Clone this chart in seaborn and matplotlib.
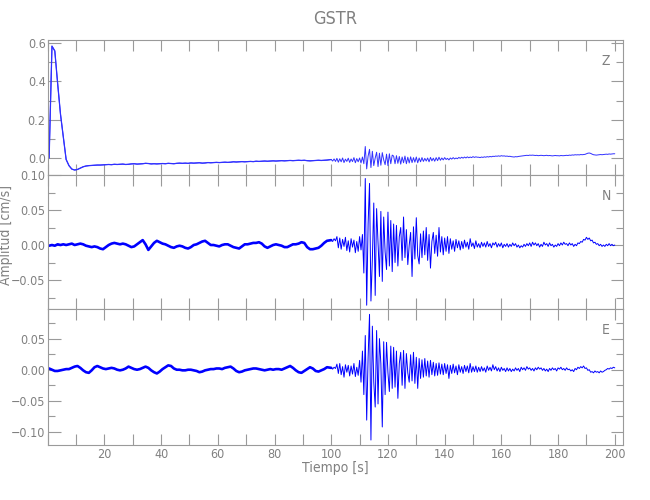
import numpy as np
import pandas as pd
import matplotlib
matplotlib.use("Agg")
import matplotlib.pyplot as plt
import seaborn as sns
from matplotlib.ticker import MultipleLocator, FixedLocator
from matplotlib import font_manager

# ---------------- text ----------------
title = "GSTR"
components = ["Z", "N", "E"]
xlabel = "Tiempo [s]"
ylabel = "Amplitud [cm/s]"
x_ticks = [20, 40, 60, 80, 100, 120, 140, 160, 180, 200]
z_yticks = [0.0, 0.2, 0.4, 0.6]
n_yticks = [-0.05, 0.00, 0.05, 0.10]
e_yticks = [-0.10, -0.05, 0.00, 0.05]

# ---------------- sampling ----------------
pre_t0, pre_dt = 0.5, 1.0      # quiet part, 1 s spacing
coda_t0, coda_dt = 100.0, 0.5  # arrival + coda, 0.5 s spacing
unit = 0.001                   # values below are in 0.001 cm/s

# ---------------- Z component ----------------
z_pre = [
    0, 585, 560, 390, 230, 110, -8, -40, -58, -63, -60, -53, -46, -42, -40, -39, -38, -37, -37, -36,
    -35, -34, -35, -33, -34, -33, -32, -34, -33, -31, -30, -32, -31, -30, -28, -29, -31, -30, -31, -30,
    -29, -30, -28, -29, -30, -28, -27, -28, -27, -28, -26, -27, -26, -25, -27, -26, -24, -25, -24, -23,
    -24, -23, -22, -23, -22, -20, -21, -20, -19, -20, -19, -18, -19, -17, -18, -17, -16, -17, -16, -15,
    -16, -15, -14, -15, -14, -13, -14, -13, -12, -13, -12, -14, -15, -14, -13, -12, -13, -12, -11,
]
z_coda = [
    -8, -16, -5, -18,
    -2, -22, -4, -20, 0, -24, -6, -18, -1, -23, -5, -19, 2, -25, -3, -20, 0, -26, 5, -30,
    60, -57, 10, 45, -50, 35, -40, 0, 30, -45, 25, -38, 28, -10, -35, 20, -40, 22, -30, 15,
    10, -30, 12, -28, 8, -32, 5, -25, 10, -30, 4, -26, 6, -24, 2, -22, 5, -25, 0, -20,
    2, -18, -2, -16, 0, -20, 3, -15, -1, -17, 2, -14, 4, -12, 0, -10, 2, -8, -2, -10,
    0, -6, 2, -5, 0, -4, 3, -2, 4, -1, 5, 0, 6, 1, 5, 2, 7, 3, 6, 4,
    4, 2, 5, 3, 6, 4, 7, 5, 8, 6, 9, 8, 10, 9, 11, 9, 12, 10, 11, 9,
    10, 8, 9, 7, 6, 5, 7, 6, 8, 9, 10, 11, 12, 13, 14, 13, 15, 14, 15, 14,
    13, 14, 12, 13, 14, 13, 12, 13, 14, 12, 13, 12, 11, 12, 13, 12, 12, 11, 13, 12,
    12, 13, 14, 13, 15, 14, 16, 15, 17, 16, 17, 16, 18, 17, 18, 19, 22, 25, 26, 24,
    20, 17, 16, 15, 16, 17, 18, 17, 18, 19, 20, 19, 21, 20, 21, 22, 22,
]

# ---------------- N component ----------------
n_pre = [
    -1, 0, -1, 1, 0, 1, 0, 1, 2, 0, 1, 2, 1, -1, -2, -3, -2, -3, -5, -6,
    -3, 0, 2, 3, 2, 1, 2, 1, -1, -3, -2, 1, 4, 7, 1, -7, -2, 3, 6, 4,
    2, 1, -1, -3, -4, -2, -1, -2, -4, -5, -3, 0, 1, 3, 5, 6, 3, 0, 0, -1,
    -2, 0, 1, 1, -1, -3, -4, -5, -2, 1, 1, 2, 3, 3, 4, 2, -2, -4, -2, 0,
    1, 0, -1, -3, -3, -1, 1, 1, 2, 4, 3, -3, -6, -6, -5, -4, -1, 3, 6,
]
n_coda = [
    7, 5, 9, 6,
    12, -4, 10, -6, 8, -2, 11, -8, 6, -10, 9, -3, 7, -11, 5, -9, 12, -7, 15, -40,
    95, -86, 30, 88, -80, -20, 60, -72, 52, 5, -45, 48, -52, 40, -10, -35, 47, -30, 35, -38,
    30, -25, 28, -30, 12, 25, -22, 40, -18, 22, -28, 0, 18, -45, 26, -20, 39, -15, -27, 16,
    -18, 20, -14, 25, -22, 15, -33, 5, 18, -12, 14, -16, 25, -10, 12, -14, 10, -9, 12, -12,
    9, -6, 6, -9, 8, -4, 6, -7, 5, -5, 7, -3, 4, -6, 9, -2, 3, -5, 6, -3,
    2, -4, 4, -2, 3, -3, 5, -2, 2, -4, 3, 0, 4, -3, 2, -2, 3, -4, 1, -2,
    2, -3, 1, -2, 3, -1, 2, -3, 0, -4, -1, -3, 1, -2, 2, -1, 3, -2, 4, 0,
    3, -1, 2, -3, 1, -2, 4, 0, 2, -2, 3, -1, 1, -3, 0, -2, 2, -1, 3, 0,
    4, 1, 2, -1, 3, 0, 2, -2, 1, -1, 3, 2, 5, 4, 8, 7, 11, 8, 10, 6,
    7, 3, 4, 1, 2, -1, 1, -2, 0, -2, 1, -1, 2, -1, 1, -1, 0,
]

# ---------------- E component ----------------
e_pre = [
    2, 0, -2, -2, -1, 0, 1, 1, 3, 5, 6, 3, -1, -4, -5, -1, 4, 6, 4, 2,
    1, 2, 3, 2, 0, -1, 0, 2, 5, 3, 1, 0, 1, 3, 5, 3, -1, -4, -6, -3,
    1, 4, 7, 6, 2, 0, 0, -1, -1, 0, 0, -1, -2, -4, -3, -1, 0, 1, 1, 2,
    2, 1, 3, 4, 5, 2, -2, -4, -3, -1, 0, 1, 2, 2, 1, 0, -1, 0, 1, 0,
    1, 1, 0, 2, 4, 6, 3, -1, -4, -5, -2, 1, 4, 2, -2, -3, -1, 1, 4,
]
e_coda = [
    3, 1, 4, 2,
    9, -6, 10, -8, 5, -12, 8, -4, 7, -10, 6, -7, 10, -11, 4, -9, 15, -20, 30, -40,
    55, -81, 20, 89, -113, 70, -20, -60, 63, -55, 50, 10, -92, 45, -40, 44, -5, -35, 38, -30,
    36, -28, 30, -46, 10, 28, -25, 31, -30, 26, -5, -20, 24, -18, 28, -22, 20, -30, 18, -14,
    16, -12, 18, -10, 14, -12, 15, -8, 12, -10, 10, -9, 11, -7, 9, -8, 10, -6, 8, -14,
    7, -6, 9, -5, 6, -8, 8, -4, 5, -6, 7, -3, 6, -5, 10, -4, 5, -3, 6, -4,
    4, -3, 5, -2, 3, -4, 6, -1, 4, -2, 8, 0, 5, -2, 3, -3, 4, -1, 2, -3,
    3, -2, 2, -3, 1, -2, 3, -1, 2, -3, 4, 0, 3, -1, 5, 1, 3, -1, 2, -2,
    3, 0, 4, 1, 3, -1, 2, -2, 1, -3, 2, -1, 3, 0, 2, -2, 3, 1, 4, 0,
    2, -1, 3, 0, 1, -2, 0, -3, 2, 0, 4, 2, 5, 3, 6, 2, 3, -1, 0, -4,
    -3, -5, -2, -4, -3, -5, -2, -4, -3, -1, 0, 2, 1, 3, 2, 4, 3,
]

# ---------------- style ----------------
sns.set_theme(style="white")
# pick a narrow face if one is installed
narrow = None
for f in font_manager.fontManager.ttflist:
    if f.name == "Liberation Sans Narrow":
        narrow = "Liberation Sans Narrow"
        break
if narrow is None:
    for f in font_manager.fontManager.ttflist:
        if f.name == "DejaVu Sans" and "ondensed" in f.fname:
            narrow = "DejaVu Sans"
            plt.rcParams["font.stretch"] = "condensed"
            break
plt.rcParams["font.family"] = ([narrow] if narrow else []) + ["DejaVu Sans"]

text_col = "#808080"
axis_col = "#9a9a9a"
plt.rcParams.update({
    "text.color": text_col, "axes.labelcolor": text_col,
    "xtick.color": axis_col, "ytick.color": axis_col,
    "xtick.labelcolor": text_col, "ytick.labelcolor": text_col,
    "axes.edgecolor": axis_col, "axes.linewidth": 0.8,
})
tick_fs = 9 if narrow else 8

fig = plt.figure(figsize=(6.5, 5), dpi=100)
left, width = 0.0734, 0.8855
ax_z = fig.add_axes([left, 0.650, width, 0.270])
ax_n = fig.add_axes([left, 0.382, width, 0.268])
ax_e = fig.add_axes([left, 0.110, width, 0.272])

panels = [
    (ax_z, "Z", z_pre, z_coda, (-0.089, 0.617), z_yticks, 0.1, "{:.1f}", 0.9, "#3030ff"),
    (ax_n, "N", n_pre, n_coda, (-0.0914, 0.100), n_yticks, 0.025, "{:.2f}", 1.9, "#0000ff"),
    (ax_e, "E", e_pre, e_coda, (-0.121, 0.0976), e_yticks, 0.025, "{:.2f}", 1.9, "#0000ff"),
]

for ax, comp, pre, coda, ylim, yt, yminor, fmt, lw_pre, col in panels:
    t_pre = pre_t0 + pre_dt * np.arange(len(pre))
    t_coda = coda_t0 + coda_dt * np.arange(len(coda))
    df = pd.DataFrame({
        "t": np.concatenate([t_pre, t_coda]),
        "amp": np.concatenate([np.asarray(pre, float), np.asarray(coda, float)]) * unit,
    })
    sns.lineplot(data=df, x="t", y="amp", ax=ax, color=col, linewidth=0.7,
                 estimator=None, sort=False)
    sns.lineplot(data=df.iloc[:len(pre) + 1], x="t", y="amp", ax=ax, color=col,
                 linewidth=lw_pre, estimator=None, sort=False)

    ax.set_xlim(0, 203)
    ax.set_ylim(*ylim)
    ax.xaxis.set_major_locator(FixedLocator(x_ticks))
    ax.xaxis.set_minor_locator(MultipleLocator(10))
    ax.yaxis.set_major_locator(FixedLocator(yt))
    ax.yaxis.set_minor_locator(MultipleLocator(yminor))
    ax.set_yticklabels([fmt.format(v).replace("-", "\u2212") for v in yt])
    ax.tick_params(axis="x", which="both", direction="in", length=8, width=0.8,
                   top=True, bottom=True, labelsize=tick_fs, pad=2.5)
    ax.tick_params(axis="y", which="major", direction="in", length=9, width=0.8,
                   left=True, right=True, labelsize=tick_fs, pad=1.5)
    ax.tick_params(axis="y", which="minor", direction="in", length=5, width=0.8,
                   left=True, right=True)
    ax.set_xlabel("")
    ax.set_ylabel("")
    ax.text(0.970, 0.842, comp, transform=ax.transAxes, ha="center", va="center",
            fontsize=10, color=text_col)
    for s in ax.spines.values():
        s.set_color(axis_col)
        s.set_linewidth(0.8)
    if ax is not ax_e:
        ax.tick_params(axis="x", labelbottom=False)

ax_e.set_xticklabels([str(v) for v in x_ticks])
ax_e.set_xlabel(xlabel, fontsize=10)
ax_e.xaxis.set_label_coords(0.5, -0.115)
ax_n.set_ylabel(ylabel, fontsize=10)
ax_n.yaxis.set_label_coords(-0.0605 if narrow else -0.064, 0.555)
fig.text(0.515, 0.963, title, ha="center", va="center", fontsize=13, color=text_col)

fig.savefig("out.png", dpi=100)
